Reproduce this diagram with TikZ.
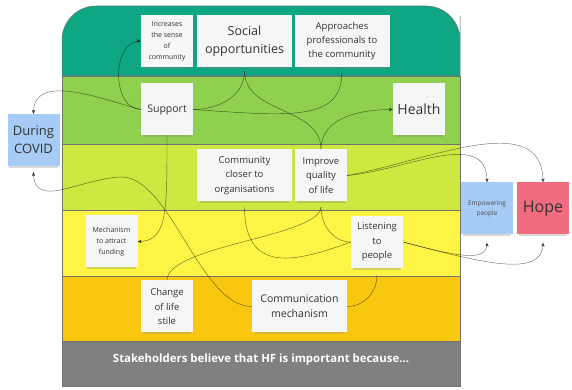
\documentclass[tikz,border=0pt]{standalone}
\usepackage{fontspec}
\setmainfont{Open Sans}
\usetikzlibrary{arrows,shadows}
\definecolor{bandteal}{HTML}{0FA683}
\definecolor{bandgreen}{HTML}{8FD14F}
\definecolor{bandlime}{HTML}{CEE741}
\definecolor{bandyellow}{HTML}{FEF445}
\definecolor{bandorange}{HTML}{FAC710}
\definecolor{bandgray}{HTML}{808080}
\definecolor{notegray}{HTML}{F5F6F8}
\definecolor{noteblue}{HTML}{A6CCF5}
\definecolor{notered}{HTML}{F16C7F}
\def\ink{black!80}

\begin{document}
\begin{tikzpicture}[x=1pt,y=1pt,>=stealth',
  main note/.style={rectangle,fill=notegray,minimum width=52pt,minimum height=52pt,
    inner sep=1pt,align=center,text=\ink,font=\fontsize{9.5}{14.5}\selectfont,
    drop shadow={shadow xshift=0pt,shadow yshift=-3.5pt,shadow scale=0.94,opacity=0.3}},
  wide note/.style={main note,minimum width=95pt},
  band/.style={draw=black!55,line width=0.5pt},
  wire/.style={draw=black,opacity=0.55,line width=0.45pt}]
  \useasboundingbox (0,0) rectangle (572,390);

  % bands
  \path[band,fill=bandteal] (62,314) -- (62,340) [rounded corners=34pt] -- (62,384)
    -- (460,384) -- (460,340) [sharp corners] -- (460,314) -- cycle;
  \path[band,fill=bandgreen] (62,246) rectangle (460,314);
  \path[band,fill=bandlime] (62,180) rectangle (460,246);
  \path[band,fill=bandyellow] (62,114) rectangle (460,180);
  \path[band,fill=bandorange] (62,49) rectangle (460,114);
  \path[band,fill=bandgray] (62,4) rectangle (460,49);
  \node[text=white,font=\fontsize{11.4}{13}\bfseries\selectfont] (0) at (261,30)
    {Stakeholders believe that HF is important because...};

  % notes
  \node[main note,font=\fontsize{7}{11}\selectfont] (1) at (167,349) {Increases\\the sense\\of\\community};
  \node[wide note,font=\fontsize{12.5}{18}\selectfont] (2) at (244.5,349) {Social\\opportunities};
  \node[wide note,font=\fontsize{9.5}{14}\selectfont] (3) at (342,349) {Approaches\\professionals to\\the community};
  \node[main note,font=\fontsize{10.5}{13}\selectfont] (4) at (167,280.5) {Support};
  \node[main note,font=\fontsize{14}{17}\selectfont] (5) at (419,280.5) {Health};
  \node[main note,fill=noteblue,font=\fontsize{13}{18}\selectfont] (6) at (33.5,250) {During\\COVID};
  \node[wide note] (7) at (244.5,214.5) {Community\\closer to\\organisations};
  \node[main note] (8) at (321,214.5) {Improve\\quality\\of life};
  \node[main note,font=\fontsize{7}{11}\selectfont] (9) at (111.5,148.5) {Mechanism\\to attract\\funding};
  \node[main note] (10) at (377,148) {Listening\\to\\people};
  \node[main note] (11) at (167,83.5) {Change\\of life\\stile};
  \node[wide note,font=\fontsize{10.5}{15}\selectfont] (12) at (299.5,83.5) {Communication\\mechanism};
  \node[main note,fill=noteblue,text=black!70,font=\fontsize{6.5}{10}\selectfont] (13) at (487,181.5) {Empowering\\people};
  \node[main note,fill=notered,font=\fontsize{16}{19}\selectfont] (14) at (543,181.5) {Hope};

  % links
  \path[every edge/.style={wire}]
    (4.west) edge [->,out=180,in=180,looseness=1.1] (1.west)
             edge [->,out=165,in=90] (6.north)
    (4.east) edge [out=0,in=-90] ([yshift=-4pt]2.south)
             edge [out=-4,in=-90,out distance=100,in distance=50] ([yshift=-4pt]3.south)
    (4.south) edge [->,out=-90,in=0,out distance=75,in distance=30] (9.east)
    ([yshift=-4pt]2.south) edge [out=-90,in=90] (8.north)
    (8.north) edge [->,out=90,in=180] (5.west)
    ([yshift=-5pt]8.south) edge [out=-90,in=90,out distance=30,in distance=35] (11.north)
                           edge [out=-90,in=180] (10.west)
    ([yshift=-5pt]7.south) edge [out=-90,in=200,out distance=70,in distance=55] (10.west)
    (8.east) edge [->,out=5,in=90,out distance=60,in distance=55] (13.north)
             edge [->,out=10,in=90,out distance=80,in distance=75] (14.north)
    (10.east) edge [->,out=-15,in=-90,out distance=55,in distance=20] ([yshift=-8pt]13.south)
              edge [->,out=-15,in=-90,out distance=85,in distance=35] ([yshift=-8pt]14.south)
    (12.east) edge [out=0,in=-90] ([yshift=-7pt]10.south);
  \draw[wire,->] (12.west) .. controls (200,83) and (170,215) .. (120,213)
    .. controls (80,211) and (33.5,180) .. ([yshift=-6pt]6.south);
\end{tikzpicture}
\end{document}
